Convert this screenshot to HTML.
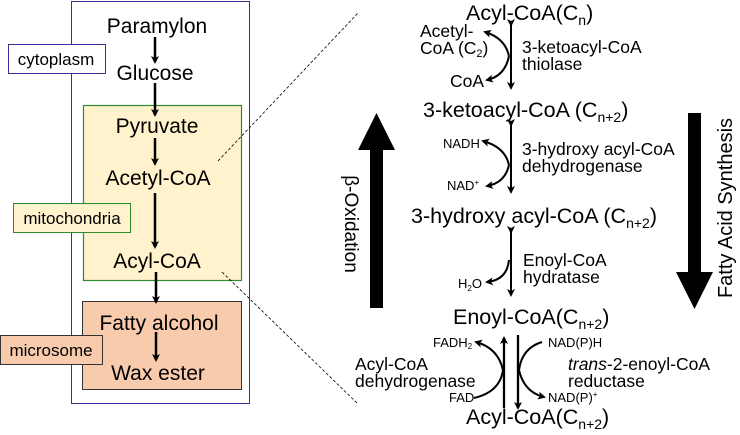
<!DOCTYPE html>
<html><head><style>
html,body{margin:0;padding:0;background:#fff;}
svg{display:block;font-family:"Liberation Sans",sans-serif;}
</style></head><body>
<svg width="740" height="435" viewBox="0 0 740 435" xmlns="http://www.w3.org/2000/svg">
<defs>
<marker id="a" markerWidth="8" markerHeight="8" refX="6" refY="4" orient="auto" markerUnits="userSpaceOnUse"><path d="M0,0 L8,4 L0,8 L2,4 z" fill="#000"/></marker>
</defs>
<!-- left -->
<rect x="71.5" y="1.5" width="178" height="402" fill="#fff" stroke="#33339a" stroke-width="1"/>
<rect x="83.5" y="105.5" width="158" height="175" fill="#fff2cc" stroke="#2e8b2e" stroke-width="1.2"/>
<rect x="82.5" y="301.5" width="159" height="88" fill="#f8cbad" stroke="#333" stroke-width="1"/>
<rect x="8.5" y="44.5" width="97" height="29" fill="#fff" stroke="#33339a"/>
<text x="56" y="65" font-size="17" text-anchor="middle">cytoplasm</text>
<rect x="13.5" y="203.5" width="117" height="29" fill="#fff2cc" stroke="#2e8b2e"/>
<text x="72" y="224" font-size="17" text-anchor="middle">mitochondria</text>
<rect x="0.5" y="335.5" width="102" height="29" fill="#f8cbad" stroke="#333"/>
<text x="51" y="356" font-size="17" text-anchor="middle">microsome</text>
<g font-size="21" text-anchor="middle">
<text x="157" y="33">Paramylon</text>
<text x="155" y="80">Glucose</text>
<text x="157" y="133">Pyruvate</text>
<text x="158" y="185">Acetyl-CoA</text>
<text x="157" y="268">Acyl-CoA</text>
<text x="159" y="330">Fatty alcohol</text>
<text x="158" y="380">Wax ester</text>
</g>
<g stroke="#000" stroke-width="2.5" marker-end="url(#a)">
<line x1="155" y1="37" x2="155" y2="62"/>
<line x1="155" y1="83" x2="155" y2="115"/>
<line x1="155" y1="138" x2="155" y2="164"/>
<line x1="155" y1="193" x2="155" y2="247"/>
<line x1="156" y1="272" x2="156" y2="302"/>
<line x1="156" y1="332" x2="156" y2="360"/>
</g>
<g stroke="#000" stroke-width="0.8" stroke-dasharray="3,2">
<line x1="218" y1="161" x2="358" y2="13"/>
<line x1="222" y1="272" x2="358" y2="404"/>
</g>
<!-- big arrows -->
<rect x="370" y="148" width="13" height="160" fill="#000"/>
<polygon points="358,150 395,150 376.5,113" fill="#000"/>
<text transform="translate(345,224) rotate(90)" font-size="19" text-anchor="middle">β-Oxidation</text>
<rect x="688" y="113" width="13" height="160" fill="#000"/>
<polygon points="676,272 713,272 694.5,309" fill="#000"/>
<text transform="translate(732,208) rotate(-90)" font-size="20" text-anchor="middle">Fatty Acid Synthesis</text>
<!-- right chain -->
<g font-size="21.5">
<text x="466" y="20">Acyl-CoA(C<tspan font-size="14" dy="5">n</tspan><tspan dy="-5">)</tspan></text>
<text x="423" y="117">3-ketoacyl-CoA (C<tspan font-size="14" dy="5">n+2</tspan><tspan dy="-5">)</tspan></text>
<text x="411" y="223">3-hydroxy acyl-CoA (C<tspan font-size="14" dy="5">n+2</tspan><tspan dy="-5">)</tspan></text>
<text x="453" y="324">Enoyl-CoA(C<tspan font-size="14" dy="5">n+2</tspan><tspan dy="-5">)</tspan></text>
<text x="466" y="424">Acyl-CoA(C<tspan font-size="14" dy="5">n+2</tspan><tspan dy="-5">)</tspan></text>
</g>
<g stroke="#000" stroke-width="2" marker-start="url(#a)" marker-end="url(#a)">
<line x1="511" y1="25" x2="511" y2="88"/>
<line x1="511" y1="125" x2="511" y2="192"/>
<line x1="511" y1="232" x2="511" y2="295"/>
</g>
<g stroke="#000" stroke-width="2.3">
<line x1="504" y1="408" x2="504" y2="338" marker-end="url(#a)"/>
<line x1="518" y1="335" x2="518" y2="408" marker-end="url(#a)"/>
</g>
<g fill="none" stroke="#000" stroke-width="2" marker-end="url(#a)">
<path d="M509,56 Q505,38 485,32"/>
<path d="M509,56 Q505,76 487,80"/>
<path d="M509,165 Q505,147 483,141"/>
<path d="M509,165 Q505,183 487,186"/>
<path d="M509,260 Q507,280 487,282"/>
<path d="M503,370 Q498,348 476,342"/>
<path d="M474,398 Q500,392 503,370" marker-end="none"/>
<path d="M519,370 Q522,348 542,342" marker-end="none"/>
<path d="M519,370 Q524,392 544,397"/>
</g>
<g font-size="17.5">
<text x="420" y="37">Acetyl-</text>
<text x="420" y="54">CoA (C<tspan font-size="11" dy="3">2</tspan><tspan dy="-3">)</tspan></text>
<text x="450" y="87">CoA</text>
<text x="522" y="53">3-ketoacyl-CoA</text>
<text x="522" y="70">thiolase</text>
<text x="522" y="155">3-hydroxy acyl-CoA</text>
<text x="522" y="172">dehydrogenase</text>
<text x="523" y="266">Enoyl-CoA</text>
<text x="523" y="283">hydratase</text>
<text x="355" y="370">Acyl-CoA</text>
<text x="355" y="387">dehydrogenase</text>
<text x="568" y="370"><tspan font-style="italic">trans</tspan>-2-enoyl-CoA</text>
<text x="568" y="387">reductase</text>
</g>
<g font-size="13">
<text x="443" y="148">NADH</text>
<text x="447" y="190">NAD<tspan font-size="8" dy="-5">+</tspan></text>
<text x="458" y="288">H<tspan font-size="8" dy="3">2</tspan><tspan dy="-3">O</tspan></text>
<text x="433" y="347">FADH<tspan font-size="8" dy="2">2</tspan></text>
<text x="449" y="402">FAD</text>
<text x="548" y="347">NAD(P)H</text>
<text x="548" y="402">NAD(P)<tspan font-size="8" dy="-5">+</tspan></text>
</g>
</svg>
</body></html>
